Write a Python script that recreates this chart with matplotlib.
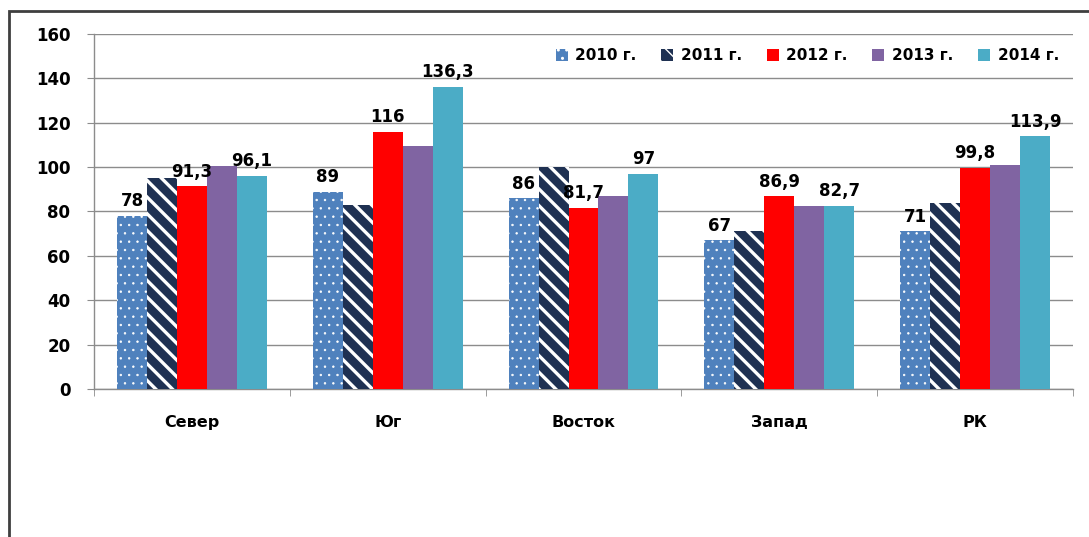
import numpy as np
import matplotlib
matplotlib.use('Agg')
import matplotlib.pyplot as plt
from matplotlib.patches import Rectangle
from matplotlib.ticker import FixedLocator

regions = ['Север', 'Юг', 'Восток', 'Запад', 'РК']
years = ['2010 г.', '2011 г.', '2012 г.', '2013 г.', '2014 г.']

y2010 = [78, 89, 86, 67, 71]
y2011 = [95, 83, 100, 71, 84]
y2012 = [91.3, 116, 81.7, 86.9, 99.8]
y2013 = [100.5, 109.5, 87, 82.5, 101]
y2014 = [96.1, 136.3, 97, 82.7, 113.9]

series = [y2010, y2011, y2012, y2013, y2014]
labelled = [True, False, True, False, True]

colors = ['#4F81BD', '#1F3152', '#FF0000', '#8064A2', '#4BACC6']
hatches = ['..', '\\\\', None, None, None]
hatch_lw = [0.5, 2.4, 1, 1, 1]

plt.rcParams['font.family'] = 'DejaVu Sans'
plt.rcParams['font.weight'] = 'bold'

fig = plt.figure(figsize=(10.89, 5.37), dpi=100)
ax = fig.add_axes([0.0863, 0.2756, 0.899, 0.6611])

# outer frame of the chart area (runs off the right and bottom edges)
fig.patches.append(Rectangle((9 / 1089, -0.1), 1.2, 1.1 - 11 / 537,
                             transform=fig.transFigure, fill=False,
                             edgecolor='#3F3F3F', linewidth=2, zorder=0))

x = np.arange(len(regions))
w = 0.153

for i, (vals, name) in enumerate(zip(series, years)):
    pos = x + (i - 2) * w
    with plt.rc_context({'hatch.linewidth': hatch_lw[i]}):
        if hatches[i]:
            bars = ax.bar(pos, vals, width=w, color=colors[i], hatch=hatches[i],
                          edgecolor='white', linewidth=0, label=name, zorder=3)
        else:
            bars = ax.bar(pos, vals, width=w, color=colors[i], linewidth=0,
                          label=name, zorder=3)
        for b in bars:
            if hasattr(b, 'set_hatch_linewidth'):
                b.set_hatch_linewidth(hatch_lw[i])
    if labelled[i]:
        for px, v in zip(pos, vals):
            txt = f'{v:g}'.replace('.', ',')
            ax.text(px, v + 2.5, txt, ha='center', va='bottom',
                    fontsize=12, fontweight='bold', zorder=5)

ax.set_xlim(-0.5, len(regions) - 0.5)
ax.set_ylim(0, 160)
ax.set_yticks(np.arange(0, 161, 20))
ax.yaxis.grid(True, color='#8C8C8C', linewidth=1)
ax.set_axisbelow(True)

ax.set_xticks(x)
ax.set_xticklabels(regions, fontsize=11.5, fontweight='bold')
ax.xaxis.set_minor_locator(FixedLocator(np.arange(-0.5, len(regions), 1)))
ax.tick_params(axis='x', which='major', length=0, pad=19)
ax.tick_params(axis='x', which='minor', length=5, color='#8C8C8C')
ax.tick_params(axis='y', length=5, color='#8C8C8C', pad=12, labelsize=12)
for t in ax.get_yticklabels():
    t.set_fontweight('bold')

for s in ['top', 'right']:
    ax.spines[s].set_visible(False)
for s in ['left', 'bottom']:
    ax.spines[s].set_color('#8C8C8C')
    ax.spines[s].set_linewidth(1)

leg = ax.legend(loc='upper right', bbox_to_anchor=(0.995, 0.985), ncol=5,
                frameon=False, fontsize=11, handlelength=0.8, handleheight=0.8,
                handletextpad=0.5, columnspacing=1.6, borderaxespad=0.2)
for t in leg.get_texts():
    t.set_fontweight('bold')

fig.savefig('out.png', dpi=100)
